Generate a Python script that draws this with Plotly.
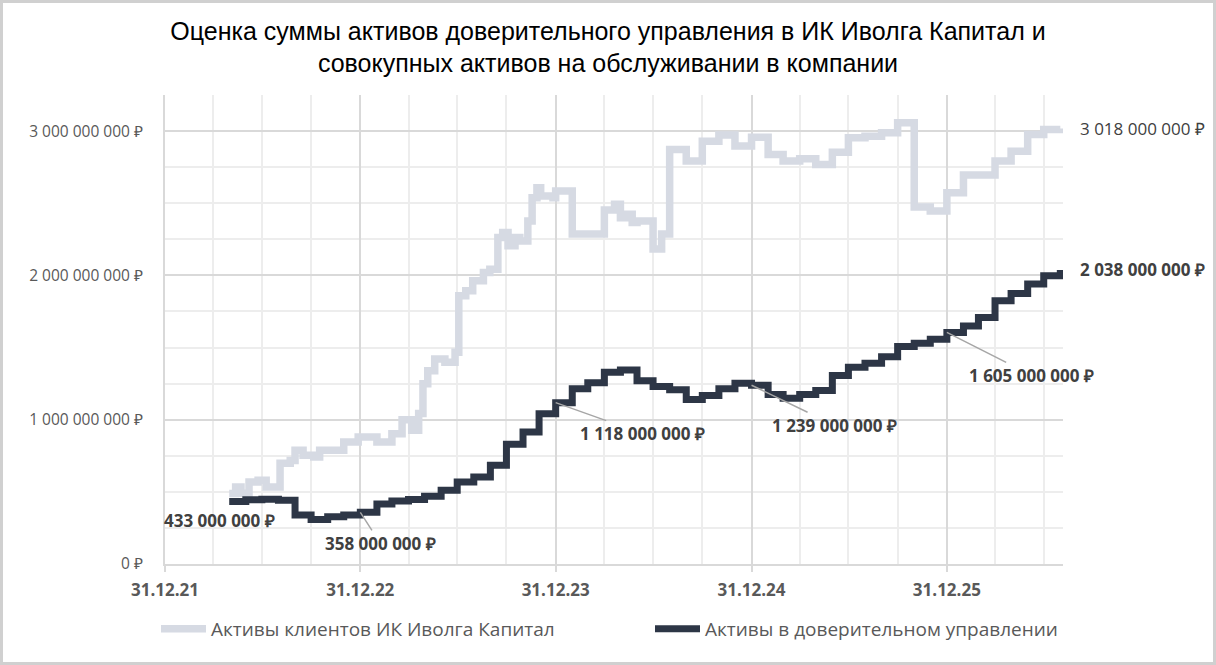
import plotly.graph_objects as go

# trust management assets (dark line), month-end values, RUB
tm_dates = ['2022-04-30', '2022-05-31', '2022-06-30', '2022-07-31', '2022-08-31', '2022-09-30',
            '2022-10-31', '2022-11-30', '2022-12-31', '2023-01-31', '2023-02-28', '2023-03-31',
            '2023-04-30', '2023-05-31', '2023-06-30', '2023-07-31', '2023-08-31', '2023-09-30',
            '2023-10-31', '2023-11-30', '2023-12-31', '2024-01-31', '2024-02-29', '2024-03-31',
            '2024-04-30', '2024-05-31', '2024-06-30', '2024-07-31', '2024-08-31', '2024-09-30',
            '2024-10-31', '2024-11-30', '2024-12-31', '2025-01-31', '2025-02-28', '2025-03-31',
            '2025-04-30', '2025-05-31', '2025-06-30', '2025-07-31', '2025-08-31', '2025-09-30',
            '2025-10-31', '2025-11-30', '2025-12-31', '2026-01-31', '2026-02-28', '2026-03-31',
            '2026-04-30', '2026-05-31', '2026-06-30', '2026-07-31']
tm_mln = [433, 445, 449, 442, 339, 309, 327, 339, 358, 415, 437, 447,
          470, 511, 569, 603, 684, 829, 914, 1041, 1118, 1214, 1256, 1329,
          1345, 1270, 1230, 1207, 1140, 1168, 1214, 1253, 1239, 1175, 1149, 1175,
          1203, 1306, 1364, 1391, 1437, 1507, 1529, 1557, 1605, 1650, 1709, 1824,
          1875, 1940, 1997, 2038]

# all client assets (light line)
cl_dates = ['2022-04-30', '2022-05-12', '2022-05-22', '2022-06-06', '2022-06-23', '2022-07-08',
            '2022-08-03', '2022-08-22', '2022-08-31', '2022-09-15', '2022-10-05', '2022-10-16',
            '2022-11-30', '2022-12-27', '2023-01-31', '2023-02-28', '2023-03-19', '2023-04-06',
            '2023-04-19', '2023-04-27', '2023-05-06', '2023-05-19', '2023-06-07', '2023-06-26',
            '2023-07-03', '2023-07-16', '2023-07-29', '2023-08-18', '2023-08-30', '2023-09-14',
            '2023-09-23', '2023-10-03', '2023-10-16', '2023-10-25', '2023-11-09', '2023-11-17',
            '2023-11-26', '2023-12-03', '2023-12-26', '2023-12-31', '2024-01-31', '2024-03-31',
            '2024-04-19', '2024-04-30', '2024-05-11', '2024-05-22', '2024-05-31', '2024-06-30',
            '2024-07-16', '2024-07-31', '2024-08-31', '2024-09-30', '2024-10-31', '2024-11-30',
            '2024-12-31', '2025-01-31', '2025-02-28', '2025-03-31', '2025-04-30', '2025-05-31',
            '2025-06-30', '2025-07-31', '2025-08-31', '2025-09-30', '2025-10-31', '2025-11-30',
            '2025-12-31', '2026-01-31', '2026-02-28', '2026-03-31', '2026-04-30', '2026-05-31',
            '2026-06-30', '2026-07-31']
cl_mln = [488, 534, 490, 569, 580, 534,
          698, 718, 788, 753, 742, 788,
          845, 880, 845, 903, 1000, 926,
          1043, 1249, 1340, 1421, 1398, 1467,
          1859, 1894, 1963, 2020, 2043, 2262,
          2297, 2205, 2262, 2239, 2377, 2538,
          2608, 2550, 2538, 2585, 2286, 2453,
          2493, 2400, 2424, 2366, 2377, 2182,
          2286, 2873, 2792, 2930, 2972, 2896,
          2958, 2838, 2792, 2808, 2769, 2854,
          2953, 2965, 2988, 3057, 2474, 2446,
          2573, 2695, 2695, 2792, 2861, 2976,
          3011, 3018]

# labelled points on the dark line: date, value (mln), text offset x, y
callout_dates = ['2022-12-31', '2023-12-31', '2024-12-31', '2025-12-31']
callout_mln = [358, 1118, 1239, 1605]
callout_ax = [20, 87, 83, 85]
callout_ay = [31, 31, 40, 43]

y_tickvals = [0, 1e9, 2e9, 3e9]
y_ticktext = ['0 ₽', '1 000 000 000 ₽', '2 000 000 000 ₽', '3 000 000 000 ₽']

LIGHT = '#d6dae3'
DARK = '#2d3646'
GREY_TXT = '#595959'
LABEL_TXT = '#404040'
FONT = 'Open Sans'


def rub(mln):
    s = f'{mln * 1000000:,}'.replace(',', ' ')
    return s + ' ₽'


fig = go.Figure()
fig.add_trace(go.Scatter(
    x=cl_dates, y=[v * 1e6 for v in cl_mln], mode='lines', line_shape='hv',
    line=dict(color=LIGHT, width=7.5), name='Активы клиентов ИК Иволга Капитал',
    legend='legend'))
fig.add_trace(go.Scatter(
    x=tm_dates, y=[v * 1e6 for v in tm_mln], mode='lines', line_shape='hv',
    line=dict(color=DARK, width=7), name='Активы в доверительном управлении',
    legend='legend2'))

# start label
fig.add_annotation(x=tm_dates[0], y=tm_mln[0] * 1e6, text=rub(tm_mln[0]), showarrow=False,
                   xanchor='center', xshift=-10, yshift=-19,
                   font=dict(family=FONT, size=17, color=LABEL_TXT, weight='bold'))

for d, v, ax, ay in zip(callout_dates, callout_mln, callout_ax, callout_ay):
    fig.add_annotation(x=d, y=v * 1e6, text=rub(v), showarrow=True, arrowhead=0,
                       arrowwidth=1.5, arrowcolor='#a6a6a6', ax=ax, ay=ay,
                       font=dict(family=FONT, size=17, color=LABEL_TXT, weight='bold'))

# end labels
fig.add_annotation(x=cl_dates[-1], y=cl_mln[-1] * 1e6, text=rub(cl_mln[-1]), showarrow=False,
                   xanchor='left', xshift=18,
                   font=dict(family=FONT, size=17, color=LABEL_TXT))
fig.add_annotation(x=tm_dates[-1], y=tm_mln[-1] * 1e6, text=rub(tm_mln[-1]), showarrow=False,
                   xanchor='left', xshift=18,
                   font=dict(family=FONT, size=17, color=LABEL_TXT, weight='bold'))

# thin frame round the whole picture
fig.add_shape(type='rect', xref='paper', yref='paper',
              x0=-163.5 / 898, x1=1 + 151.5 / 898, y0=-99.5 / 469, y1=1 + 93.5 / 469,
              line=dict(color='#d0d0d0', width=3))

leg_font = dict(family=FONT, size=19, color=GREY_TXT)
fig.update_layout(
    width=1216, height=665,
    margin=dict(l=165, r=153, t=95, b=101, autoexpand=False),
    paper_bgcolor='white', plot_bgcolor='white',
    title=dict(text='Оценка суммы активов доверительного управления в ИК Иволга Капитал и<br>'
                    'совокупных активов на обслуживании в компании',
               x=0.5, xanchor='center', y=0.94, yanchor='top',
               font=dict(family='Liberation Sans', size=25, color='black')),
    showlegend=True,
    legend=dict(orientation='h', xref='container', x=156 / 1216, xanchor='left',
                yref='container', y=36 / 665, yanchor='middle', font=leg_font, itemwidth=45),
    legend2=dict(orientation='h', xref='container', x=650 / 1216, xanchor='left',
                 yref='container', y=36 / 665, yanchor='middle', font=leg_font, itemwidth=45),
    hovermode=False,
)
fig.update_xaxes(
    type='date', range=['2021-12-31', '2026-08-05'], automargin=False,
    tick0='2021-12-31', dtick='M12', tickformat='%d.%m.%y',
    showgrid=True, gridcolor='#d9d9d9', gridwidth=2,
    minor=dict(dtick='M3', tick0='2021-12-31', showgrid=True, gridcolor='#ededed', gridwidth=2),
    showline=True, linecolor='#d9d9d9', linewidth=2,
    ticks='outside', ticklen=6, tickcolor='#d9d9d9', tickwidth=2,
    ticklabelstandoff=4,
    tickfont=dict(family=FONT, size=17, color=GREY_TXT, weight='bold'),
    zeroline=False,
)
fig.update_yaxes(
    range=[0, 3.25e9], tickvals=y_tickvals, ticktext=y_ticktext, automargin=False,
    showgrid=True, gridcolor='#d9d9d9', gridwidth=2,
    minor=dict(dtick=2.5e8, tick0=0, showgrid=True, gridcolor='#ededed', gridwidth=2),
    showline=True, linecolor='#d9d9d9', linewidth=2,
    ticks='', ticklabelstandoff=17,
    tickfont=dict(family=FONT, size=15.5, color=GREY_TXT),
    zeroline=False,
)

fig.write_html('out.html', config={'displayModeBar': False},
               post_script="document.body.style.margin = '0';")
